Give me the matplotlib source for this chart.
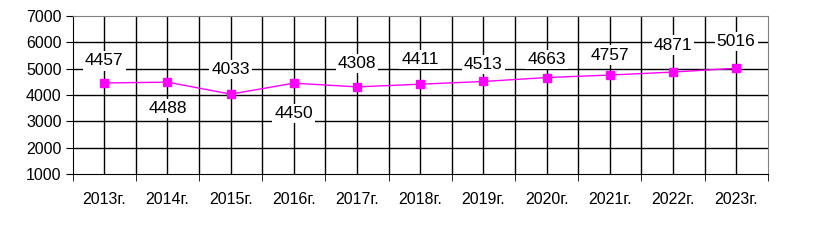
import numpy as np
import matplotlib
matplotlib.use("Agg")
from matplotlib import pyplot as plt

years = ["2013г.", "2014г.", "2015г.", "2016г.", "2017г.", "2018г.",
         "2019г.", "2020г.", "2021г.", "2022г.", "2023г."]
values = [4457, 4488, 4033, 4450, 4308, 4411, 4513, 4663, 4757, 4871, 5016]

# label offsets in pixels (positive = below the point)
label_dy = [-22, 26, -25, 30, -23, -25, -17, -18, -20, -27, -27]

plt.rcParams["font.family"] = ["Liberation Sans", "DejaVu Sans"]

fig = plt.figure(figsize=(8.14, 2.5), dpi=100)
ax = fig.add_axes([72.7 / 814, 76 / 250, 695 / 814, 158 / 250])

x = np.arange(len(years))
ax.set_xlim(-0.5, len(years) - 0.5)
ax.set_ylim(1000, 7000)
ax.set_yticks(range(1000, 7001, 1000))

# gridlines
for yv in range(2000, 7000, 1000):
    ax.axhline(yv, color="black", lw=1, zorder=1)
for xv in np.arange(0, len(years) - 0.5, 0.5):
    ax.axvline(xv, color="black", lw=1, zorder=1)

ax.plot(x, values, color="#FF00FF", lw=1, marker="s", markersize=6,
        markeredgecolor="#FF00FF", zorder=3)

for xi, v, dy in zip(x, values, label_dy):
    ax.annotate(str(v), (xi, v), xytext=(0, -dy), textcoords="offset pixels",
                ha="center", va="center", fontsize=12.5,
                bbox=dict(facecolor="white", edgecolor="none", pad=1.5),
                zorder=4)

ax.set_xticks(x)
ax.set_xticklabels(years)
ax.set_xticks(np.arange(-0.5, len(years), 1.0), minor=True)
ax.tick_params(axis="x", which="major", length=0, pad=13, labelsize=11.5)
ax.tick_params(axis="x", which="minor", length=5, direction="out", color="black")
ax.tick_params(axis="y", length=5, direction="out", pad=3, labelsize=11.5)

ax.spines["left"].set_color("black")
ax.spines["bottom"].set_color("black")
ax.spines["top"].set_color("#808080")
ax.spines["right"].set_color("#808080")

fig.savefig("out.png", dpi=100)
